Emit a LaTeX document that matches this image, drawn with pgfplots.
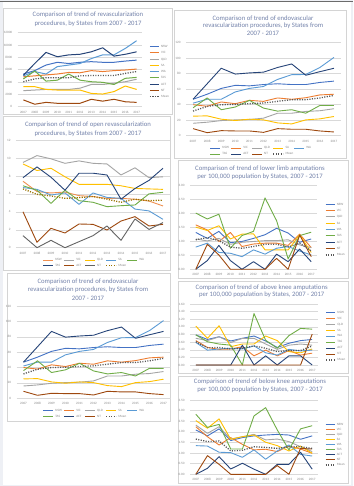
\documentclass[border=0pt]{standalone}
\usepackage{fontspec}
\setmainfont{Carlito}
\usepackage{pgfplots}
\usepackage{pgfplotstable}
\pgfplotsset{compat=1.18}
\definecolor{cNSW}{HTML}{4472C4}
\definecolor{cVIC}{HTML}{ED7D31}
\definecolor{cQLD}{HTML}{A5A5A5}
\definecolor{cSA}{HTML}{FFC000}
\definecolor{cWA}{HTML}{5B9BD5}
\definecolor{cTAS}{HTML}{70AD47}
\definecolor{cACT}{HTML}{264478}
\definecolor{cNT}{HTML}{9E480E}
\definecolor{cMean}{HTML}{585858}
\definecolor{cGr}{HTML}{636363}
\definecolor{cOl}{HTML}{997300}
\definecolor{gridc}{HTML}{D9D9D9}
\definecolor{tickc}{HTML}{8A8A8A}
\definecolor{titlec}{HTML}{7382AA}
\definecolor{borderc}{HTML}{D4D4D4}
\definecolor{bgc}{HTML}{EEF0F5}
\definecolor{topc}{HTML}{6B6B6B}
\newcommand{\tfont}{\fontsize{6.7}{8}\selectfont}
\newcommand{\sfont}{\fontsize{3.3}{3.6}\selectfont}
\newcommand{\hl}[1]{\makebox[9.4pt][l]{\hspace{1.2pt}#1}}
\newcommand{\vl}[1]{\hspace{1.2pt}#1}

\pgfplotstableread{
x NSW VIC QLD SA WA TAS ACT NT Mean
0 5300 4850 2600 3250 5000 4500 5100 1100 4050
1 5850 5000 2700 3250 5700 5800 7000 400 4500
2 6750 5150 2800 2800 5300 4150 8800 700 4700
3 7200 5300 2800 2700 6500 4300 8100 550 4700
4 7000 5550 2800 2700 6750 5300 8400 550 4700
5 7200 5500 3000 2700 7000 4300 8500 550 5000
6 7300 5850 3600 2150 7800 4050 8900 1200 5050
7 7200 5700 3600 2050 8400 3950 9550 900 5050
8 7200 5850 3800 2450 8400 3600 8200 1200 5050
9 7400 5950 4050 3350 9450 4600 8500 800 5400
10 7550 6100 4450 2800 10700 4750 8900 700 5700
}\tabA

\pgfplotstableread{
x NSW VIC QLD SA WA TAS ACT NT Mean
0 47 40 16 25.2 42 36 47 9.1 31.7
1 53.5 38 17.4 25.6 47 48.7 67 3.9 37.8
2 61 43.5 19.5 21.3 47 33.5 87 6.5 40
3 65 41.3 20.4 19.6 56.5 37 79.5 6.1 40.4
4 64.3 45.6 20.9 21.3 61 45.6 81 6.1 41.3
5 66 44.3 22.6 20.4 63.5 35.6 82 4.3 42.2
6 67 48.7 29 16.5 72.6 31.7 88 9.1 44.3
7 66 47 29 15.2 78.7 33.5 92.6 8.3 46.5
8 66 49 31.3 20.4 79 29 78 8.3 46.5
9 68.7 52.6 32.2 21.7 88 39 82.6 6.1 48.7
10 70.4 53.5 34.8 24.8 101 39 87 4.8 52
}\tabB

\pgfplotstableread{
x NSW VIC QLD SA WA TAS ACT NT Mean
0 7.4 9.5 9.33 6.7 6.9 7.8 4.0 1.34 6.55
1 6.25 10.26 8.6 6.5 6.4 9.0 0.6 0 5.95
2 6.1 9.9 8.85 5.87 4.94 7.85 2.16 0.82 5.76
3 6.2 9.4 7.9 6.1 6.4 6.4 1.64 0 5.5
4 5.8 9.67 7.06 4.83 5.24 8.3 2.64 0.67 5.58
5 5.7 9.4 7.06 6.1 5.06 8.3 2.6 1.34 5.7
6 5.5 9.33 7.06 5.6 4.57 8.1 1.97 2.42 5.4
7 5.5 8.1 6.9 5.5 4.68 5.4 2.97 0.82 5.06
8 5.4 8.9 6.6 4.3 4.76 6.6 3.46 3.2 5.4
9 5.2 7.8 6.55 4.1 6.0 7.5 2.42 2.04 5.24
10 4.65 7.9 6.5 3.16 6.17 8.85 2.6 2.8 5.3
}\tabC

\pgfplotstableread{
x NSW VIC QLD SA WA TAS ACT NT Mean
0 1.31 1.58 1.08 1.5 0.79 2.0 0 0 1.05
1 1.1 1.4 1.01 1.38 0.93 1.79 0.31 0.89 1.13
2 1.35 0.99 1.1 1.55 0.6 1.96 0.85 0.51 1.02
3 0.95 1.31 0.89 1.08 0.57 0.75 0.31 0 0.79
4 0.99 0.81 0.96 1.25 0.45 1.2 0 0 0.75
5 1.1 0.9 0.99 1.26 0.69 1.35 0.27 0 0.81
6 1.23 0.93 1.02 0.69 0.54 2.54 0 0 0.89
7 1.46 0.93 1.02 0.69 0.75 1.73 0.54 0.39 0.89
8 1.29 0.85 1.05 0.69 0.81 0.37 0.27 0 0.79
9 0.96 1.25 0.87 1.23 0.65 1.2 0.72 1.22 0.93
10 1.08 0.77 0.77 0.6 0.51 1.32 0.27 0.45 0.65
}\tabD

\pgfplotstableread{
x NSW VIC QLD SA WA TAS ACT NT Mean
0 0.79 0.64 0.70 1.02 0.59 0.79 0 0 0.61
1 0.67 0.46 0.64 0.70 0.39 0.61 0 0 0.45
2 0.74 0.41 0.74 1.03 0.42 0.55 0 0 0.46
3 0.63 0.42 0.59 0.48 0.44 0.52 0 0 0.42
4 0.70 0.48 0.70 0.55 0.42 0 0.52 0 0.44
5 0.76 0.24 0.70 0.55 0.50 1.35 0 0 0.50
6 0.63 0.39 0.55 0.76 0.32 0.65 0.24 0 0.44
7 0.46 0.24 0.41 0.64 0.26 0.44 0 0 0.35
8 0.57 0.38 0.52 0.35 0.41 0.77 0.24 0 0.38
9 0.64 0.26 0.55 0.32 0.37 0.96 0.24 0 0.38
10 0.67 0.31 0.52 0.42 0.39 0.94 0 0.81 0.50
}\tabE

\pgfplotstableread{
x NSW VIC QLD SA WA TAS ACT NT Mean
0 2.09 2.24 2.32 2.53 1.35 2.83 0 0 1.66
1 1.81 1.77 1.93 2.17 1.33 2.21 0.28 0.88 1.54
2 2.14 1.38 2.24 2.61 1.04 2.35 0.83 0.47 1.57
3 1.59 1.73 1.66 1.65 1.02 1.19 0.25 0 1.10
4 1.73 1.41 1.77 1.77 0.80 1.19 0.52 0 1.13
5 1.81 1.15 1.88 1.85 1.15 2.75 0.24 0 1.30
6 1.85 1.18 1.62 1.51 0.71 3.14 0 0 1.27
7 1.88 1.07 1.66 1.35 1.10 2.09 0.47 0.41 1.22
8 1.85 1.33 1.54 1.10 1.38 1.15 0.47 0 1.30
9 1.65 1.19 1.30 1.33 0.94 2.14 1.04 1.22 1.30
10 1.81 0.99 1.07 0.99 0.86 2.29 0.24 1.19 1.22
}\tabF

\pgfplotsset{
  panel/.style={
    scale only axis, clip=false,
    xmin=-0.5, xmax=10.5, ymin=0,
    xtick={0,1,2,3,4,5,6,7,8,9,10},
    xticklabels={2007,2008,2009,2010,2011,2012,2013,2014,2015,2016,2017},
    axis line style={draw=none},
    major tick length=0pt, tick style={draw=none},
    ymajorgrids, major grid style={draw=gridc, line width=0.4pt},
    tick label style={font=\sfont, text=tickc},
    yticklabel style={xshift=-2pt},
    xticklabel style={yshift=-0.8pt},
    /pgf/number format/assume math mode=true,
    scaled y ticks=false,
    /pgf/number format/1000 sep={},
    every axis plot/.append style={line width=0.9pt, mark=none, line join=round},
    legend cell align=left,
    legend style={draw=none, fill=none, inner sep=0pt, outer sep=0pt,
      font=\sfont, text=tickc, anchor=north west,
      nodes={inner sep=0.3pt, text height=2.3pt, text depth=0.6pt},
      column sep=0pt},
  },
  dec/.style={yticklabel style={/pgf/number format/.cd, fixed, fixed zerofill, precision=2}},
  vleg/.style={legend image code/.code={\draw[##1] (0pt,0pt) -- (9pt,0pt);}},
  hleg/.style={legend columns=5, legend image code/.code={\draw[##1] (0pt,0pt) -- (10pt,0pt);}},
  mean/.style={color=#1, line width=1.3pt, dash pattern=on 1.1pt off 1.4pt},
}

\newcommand{\allseries}[1]{%
  \addplot[cNSW] table[x=x,y=NSW]{#1};
  \addplot[cVIC] table[x=x,y=VIC]{#1};
  \addplot[cQLD] table[x=x,y=QLD]{#1};
  \addplot[cSA] table[x=x,y=SA]{#1};
  \addplot[cWA] table[x=x,y=WA]{#1};
  \addplot[cTAS] table[x=x,y=TAS]{#1};
  \addplot[cACT] table[x=x,y=ACT]{#1};
  \addplot[cNT] table[x=x,y=NT]{#1};
  \addplot[mean=cMean] table[x=x,y=Mean]{#1};
}

\begin{document}
\begin{tikzpicture}[x=1pt,y=1pt]
\path[use as bounding box, fill=bgc] (0,0) rectangle (353,486);
\fill[white] (3,1) rectangle (351,484);
\draw[topc, line width=1pt] (0,484.6) -- (353,484.6);
% panel borders
\draw[borderc, line width=0.6pt] (3.3,372) rectangle (172,478);
\draw[borderc, line width=0.6pt] (174.5,328) rectangle (346,475.3);
\draw[borderc, line width=0.6pt] (3.5,216) rectangle (170,369.5);
\draw[borderc, line width=0.6pt] (7.3,64.3) rectangle (170,213);
\draw[borderc, line width=0.6pt] (178,207.7) rectangle (348,325.3);
\draw[borderc, line width=0.6pt] (178,112.7) rectangle (348,204.3);
\draw[borderc, line width=0.6pt] (178,3) rectangle (348,109.3);

% titles
\begin{scope}[every node/.style={font=\tfont, text=titlec, inner sep=0pt}]
\node at (88,471) {Comparison of trend of revascularization};
\node at (88,462) {procedures, by States from 2007 - 2017};
\node at (263,467) {Comparison of trend of endovascular};
\node at (263,460) {revascularization procedures, by States from};
\node at (263,453) {2007 - 2017};
\node at (88,361) {Comparison of trend of open revascularization};
\node at (88,352.7) {procedures, by States from 2007 - 2017};
\node at (260,317.7) {Comparison of trend of lower limb amputations};
\node at (260,309.3) {per 100,000 population by States, 2007 - 2017};
\node at (88,204.3) {Comparison of trend of endovascular};
\node at (88,196) {revascularization procedures, by States from};
\node at (88,187.7) {2007 - 2017};
\node at (261.7,198.7) {Comparison of trend of above knee amputations};
\node at (261.7,191.7) {per 100,000 population by States, 2007 - 2017};
\node at (260,104.3) {Comparison of trend of below knee amputations};
\node at (260,96) {per 100,000 population by States, 2007 - 2017};
\end{scope}

% Panel 1
\begin{axis}[panel, vleg, at={(17.7pt,379.3pt)}, anchor=south west,
  width=124.6pt, height=74pt, ymax=12000,
  ytick={0,2000,4000,6000,8000,10000,12000},
  every axis plot/.append style={line width=1pt},
  legend style={at={(axis description cs:1.056,0.834)}, row sep=2.75pt}]
\allseries{\tabA}
\legend{\vl{NSW},\vl{VIC},\vl{QLD},\vl{SA},\vl{WA},\vl{TAS},\vl{ACT},\vl{NT},\vl{Mean}}
\end{axis}

% Panel 2
\begin{axis}[panel, hleg, at={(186pt,350.3pt)}, anchor=south west,
  width=155pt, height=93pt, ymax=120,
  ytick={0,20,40,60,80,100,120},
  legend style={at={(axis description cs:0.155,-0.113)}, row sep=2.5pt}]
\allseries{\tabB}
\legend{\hl{NSW},\hl{VIC},\hl{QLD},\hl{SA},\hl{WA},\hl{TAS},\hl{ACT},\hl{NT},\hl{Mean}}
\end{axis}

% Panel 3
\begin{axis}[panel, hleg, at={(16pt,238.3pt)}, anchor=south west,
  width=154pt, height=107.7pt, ymax=12,
  ytick={0,2,4,6,8,10,12},
  legend style={at={(axis description cs:0.175,-0.098)}, row sep=2.2pt}]
\addplot[color=cVIC!85!white] table[x=x,y=NSW]{\tabC};
\addplot[cQLD] table[x=x,y=VIC]{\tabC};
\addplot[cSA] table[x=x,y=QLD]{\tabC};
\addplot[cWA] table[x=x,y=SA]{\tabC};
\addplot[cTAS] table[x=x,y=WA]{\tabC};
\addplot[cACT] table[x=x,y=TAS]{\tabC};
\addplot[cNT] table[x=x,y=ACT]{\tabC};
\addplot[cGr] table[x=x,y=NT]{\tabC};
\addplot[mean=cOl] table[x=x,y=Mean]{\tabC};
\legend{\hl{NSW},\hl{VIC},\hl{QLD},\hl{SA},\hl{WA},\hl{TAS},\hl{ACT},\hl{NT},\hl{Mean}}
\end{axis}

% Panel 5
\begin{axis}[panel, hleg, at={(16.5pt,87.7pt)}, anchor=south west,
  width=154pt, height=92.3pt, ymax=120,
  ytick={0,20,40,60,80,100,120},
  legend style={at={(axis description cs:0.172,-0.1154)}, row sep=2.5pt}]
\allseries{\tabB}
\legend{\hl{NSW},\hl{VIC},\hl{QLD},\hl{SA},\hl{WA},\hl{TAS},\hl{ACT},\hl{NT},\hl{Mean}}
\end{axis}

% Panel 4
\begin{axis}[panel, vleg, dec, at={(190pt,216.7pt)}, anchor=south west,
  width=127pt, height=84.3pt, ymax=3,
  ytick={0,0.5,1,1.5,2,2.5,3},
  legend style={at={(axis description cs:1.063,0.792)}, row sep=2.83pt}]
\allseries{\tabD}
\legend{\vl{NSW},\vl{VIC},\vl{QLD},\vl{SA},\vl{WA},\vl{TAS},\vl{ACT},\vl{NT},\vl{Mean}}
\end{axis}

% Panel 6
\begin{axis}[panel, vleg, dec, at={(190pt,121pt)}, anchor=south west,
  width=128pt, height=61pt, ymax=1.6,
  ytick={0,0.2,0.4,0.6,0.8,1.0,1.2,1.4,1.6},
  legend style={at={(axis description cs:1.060,0.893)}, row sep=2.46pt}]
\allseries{\tabE}
\legend{\vl{NSW},\vl{VIC},\vl{QLD},\vl{SA},\vl{WA},\vl{TAS},\vl{ACT},\vl{NT},\vl{Mean}}
\end{axis}

% Panel 7
\begin{axis}[panel, vleg, dec, at={(190pt,11.7pt)}, anchor=south west,
  width=128pt, height=74.3pt, ymax=3.5,
  ytick={0,0.5,1,1.5,2,2.5,3,3.5},
  legend style={at={(axis description cs:1.055,0.697)}, row sep=1.58pt}]
\allseries{\tabF}
\legend{\vl{NSW},\vl{VIC},\vl{QLD},\vl{SA},\vl{WA},\vl{TAS},\vl{ACT},\vl{NT},\vl{Mean}}
\end{axis}
\end{tikzpicture}
\end{document}
